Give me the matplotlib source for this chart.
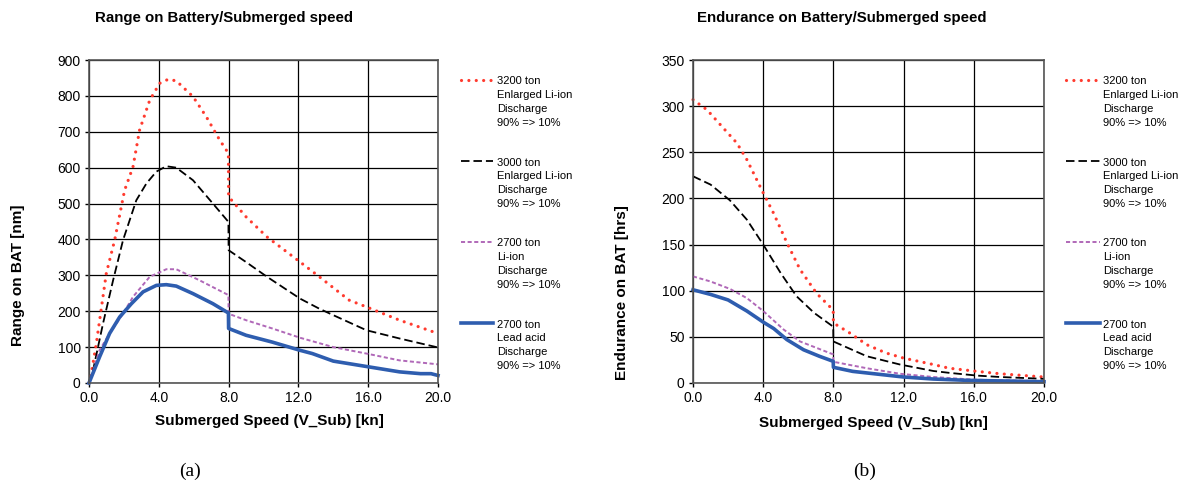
"""Battery range and endurance versus submerged speed for four submarine configurations."""

import matplotlib.pyplot as plt
from matplotlib.lines import Line2D

plt.rcParams["font.family"] = ["Liberation Sans", "DejaVu Sans"]

# Range on battery [nm] vs. speed [kn]
range_3200_x = [0.0, 0.13, 0.42, 0.99, 1.47, 2.04, 2.52, 2.9, 3.48, 4.05, 4.53, 5.0, 5.96, 6.72, 7.49, 7.99,
                8.0, 9.0, 10.2, 12.1, 13.2, 14.9, 15.9, 17.8, 20.0]
range_3200_y = [0, 26, 110, 305, 398, 537, 602, 705, 788, 835, 846, 842, 798, 742, 677, 640,
                519, 463, 407, 337, 296, 231, 212, 175, 138]

range_3000_x = [0.0, 0.23, 0.8, 1.38, 1.95, 2.71, 3.29, 3.86, 4.43, 5.0, 5.96, 7.1, 7.99,
                8.0, 9.0, 10.2, 12.1, 13.2, 14.0, 15.9, 17.8, 20.0]
range_3000_y = [0, 35, 165, 286, 398, 509, 556, 589, 604, 600, 565, 500, 449,
                370, 337, 296, 235, 207, 189, 147, 124, 99]

range_2700li_x = [0.0, 0.13, 0.6, 1.18, 1.95, 2.52, 3.48, 4.43, 5.0, 6.34, 7.99,
                  8.0, 9.0, 10.5, 12.1, 14.0, 15.9, 17.8, 20.0]
range_2700li_y = [0, 17, 91, 138, 193, 240, 296, 317, 317, 286, 245,
                  193, 175, 152, 126, 100, 82, 63, 52]

range_2700pb_x = [0.0, 0.6, 1.18, 1.76, 2.43, 3.1, 3.86, 4.43, 5.0, 5.96, 7.1, 7.99,
                  8.0, 9.0, 10.5, 12.1, 12.8, 14.0, 15.9, 17.8, 19.0, 19.6, 20.0]
range_2700pb_y = [0, 72, 138, 184, 221, 254, 272, 274, 270, 249, 221, 195,
                  152, 133, 114, 91, 82, 61, 46, 31, 26, 26, 21]

# Endurance on battery [hrs] vs. speed [kn]
endu_3200_x = [0.0, 0.8, 1.74, 2.5, 3.07, 4.0, 4.59, 5.35, 6.1, 7.05, 7.99,
               8.0, 8.95, 9.9, 11.0, 12.0, 13.7, 14.6, 16.0, 17.5, 20.0]
endu_3200_y = [307, 296, 276, 260, 242, 206, 184, 152, 123, 97, 79,
               65, 54, 41.5, 32.5, 27, 20, 16, 13, 10, 6.5]

endu_3000_x = [0.0, 1.0, 2.1, 3.07, 4.0, 5.0, 5.9, 6.9, 7.99,
               8.0, 9.9, 11.8, 13.7, 14.6, 16.2, 17.5, 20.0]
endu_3000_y = [224, 215, 198, 177, 150, 119, 94, 76, 61,
               45, 29, 20, 13, 11, 8, 6.5, 4.5]

endu_2700li_x = [0.0, 1.0, 2.1, 3.07, 4.0, 5.16, 6.1, 7.99,
                 8.0, 9.9, 11.8, 13.7, 16.0, 20.0]
endu_2700li_y = [115.5, 110, 102, 92, 78, 58, 45, 31,
                 23, 16, 10, 6.5, 3.6, 2]

endu_2700pb_x = [0.0, 1.0, 2.0, 3.07, 4.0, 4.6, 5.35, 6.3, 7.2, 7.99,
                 8.0, 9.1, 10.8, 12.0, 13.7, 15.6, 20.0]
endu_2700pb_y = [101, 96, 90, 78, 66, 59, 47, 36, 29, 23.5,
                 17, 12.6, 9, 6.5, 4.3, 2.9, 1.4]

labels = [
    "3200 ton\nEnlarged Li-ion\nDischarge\n90% => 10%",
    "3000 ton\nEnlarged Li-ion\nDischarge\n90% => 10%",
    "2700 ton\nLi-ion\nDischarge\n90% => 10%",
    "2700 ton\nLead acid\nDischarge\n90% => 10%",
]

styles = [
    dict(color="#FF3B2F", lw=2.3, ls=(0, (0.01, 2.3)), dash_capstyle="round"),
    dict(color="black", lw=1.3, ls=(0, (4.7, 2.2))),
    dict(color="#B068B8", lw=1.4, ls=(0, (2.1, 1.3))),
    dict(color="#2E5DAF", lw=2.6, ls="-"),
]

W, H = 1179, 491
fig = plt.figure(figsize=(W / 100, H / 100), dpi=100)


def px_rect(x0, x1, y0, y1):
    return [x0 / W, 1 - y1 / H, (x1 - x0) / W, (y1 - y0) / H]


def setup_axes(ax, ymax, ystep, ylabel, xlab_pos, ylab_pos):
    ax.set_xlim(0, 20)
    ax.set_ylim(0, ymax)
    ax.set_xticks([0, 4, 8, 12, 16, 20])
    ax.set_xticklabels(["0.0", "4.0", "8.0", "12.0", "16.0", "20.0"])
    ax.set_yticks(range(0, ymax + 1, ystep))
    ax.grid(True, color="black", lw=0.9)
    ax.set_axisbelow(True)
    for s in ax.spines.values():
        s.set_color("#555555")
        s.set_linewidth(1.2)
    ax.tick_params(labelsize=10, length=3, width=1, color="black", pad=3)
    ax.set_xlabel("Submerged Speed (V_Sub) [kn]", fontsize=11, fontweight="bold", va="center")
    ax.set_ylabel(ylabel, fontsize=11, fontweight="bold", va="center")
    ax.xaxis.set_label_coords(*xlab_pos)
    ax.yaxis.set_label_coords(*ylab_pos)


def draw_legend(x_line0, x_line1, x_text):
    for i, (lab, st) in enumerate(zip(labels, styles)):
        y = 79.5 + i * 81
        fig.add_artist(Line2D([x_line0 / W, x_line1 / W], [1 - y / H, 1 - y / H], **st))
        fig.text(x_text / W, 1 - (y - 3) / H, lab, fontsize=8, va="top", ha="left",
                 linespacing=1.47)


# (a) range
ax1 = fig.add_axes(px_rect(89, 438, 60, 383))
setup_axes(ax1, 900, 100, "Range on BAT [nm]", (0.516, -0.118), (-0.203, 0.334))
for xs, ys, st in zip([range_3200_x, range_3000_x, range_2700li_x, range_2700pb_x],
                      [range_3200_y, range_3000_y, range_2700li_y, range_2700pb_y], styles):
    ax1.plot(xs, ys, clip_on=False, **st)
fig.text(95 / W, 1 - 18 / H, "Range on Battery/Submerged speed", fontsize=10.8,
         fontweight="bold", va="center")
draw_legend(461, 493, 497)
fig.text(190 / W, 1 - 471 / H, "(a)", fontsize=14, family="Liberation Serif",
         ha="center", va="center")

# (b) endurance
ax2 = fig.add_axes(px_rect(693, 1044, 60, 383))
setup_axes(ax2, 350, 50, "Endurance on BAT [hrs]", (0.513, -0.124), (-0.202, 0.28))
for xs, ys, st in zip([endu_3200_x, endu_3000_x, endu_2700li_x, endu_2700pb_x],
                      [endu_3200_y, endu_3000_y, endu_2700li_y, endu_2700pb_y], styles):
    ax2.plot(xs, ys, clip_on=False, **st)
fig.text(697 / W, 1 - 18 / H, "Endurance on Battery/Submerged speed", fontsize=10.8,
         fontweight="bold", va="center")
draw_legend(1066, 1100, 1103)
fig.text(865 / W, 1 - 471 / H, "(b)", fontsize=14, family="Liberation Serif",
         ha="center", va="center")

fig.savefig("out.png", dpi=100)
